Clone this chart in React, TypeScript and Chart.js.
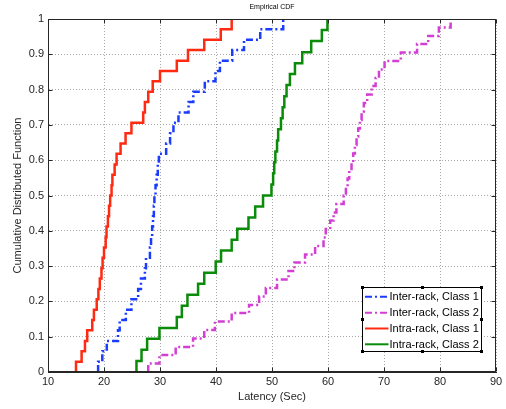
import React, { useEffect, useRef } from "react";
import { Chart, registerables } from "chart.js";

Chart.register(...registerables);

const xTicks = [10, 20, 30, 40, 50, 60, 70, 80, 90];
const yTicks = [0, 0.1, 0.2, 0.3, 0.4, 0.5, 0.6, 0.7, 0.8, 0.9, 1];
const yTickLabels = ["0", "0.1", "0.2", "0.3", "0.4", "0.5", "0.6", "0.7", "0.8", "0.9", "1"];

const seriesNames = ["Inter-rack, Class 1", "Inter-rack, Class 2", "Intra-rack, Class 1", "Intra-rack, Class 2"];

// Inter-rack, Class 1 (jump positions and CDF levels)
const interC1X = [18.95, 18.95, 19.7, 20.5, 22.5, 22.8, 23.9, 24.9, 26.1, 26.6, 27.3, 27.5, 28.2, 28.4, 28.6, 28.75, 28.9, 29.0, 29.2, 29.4, 29.6, 29.8, 31.1, 31.8, 32.4, 33.3, 35.1, 35.95, 38.0, 39.9, 40.7, 42.9, 45.0, 47.9, 52.0];
const interC1Y = [0, 0.029, 0.059, 0.088, 0.118, 0.147, 0.176, 0.206, 0.235, 0.265, 0.294, 0.324, 0.353, 0.382, 0.412, 0.441, 0.471, 0.5, 0.529, 0.559, 0.588, 0.618, 0.647, 0.676, 0.706, 0.735, 0.765, 0.794, 0.824, 0.853, 0.882, 0.912, 0.941, 0.971, 1.0];

// Inter-rack, Class 2
const interC2X = [27.9, 27.9, 29.9, 32.8, 35.9, 37.9, 39.8, 42.8, 45.9, 47.7, 48.9, 50.9, 52.95, 54.0, 55.9, 57.7, 59.2, 59.6, 60.4, 61.0, 61.5, 62.8, 63.2, 63.5, 63.8, 64.2, 64.5, 64.8, 65.1, 65.4, 65.7, 66.0, 66.4, 67.0, 67.8, 68.5, 69.1, 70.1, 73.0, 75.9, 77.9, 79.8, 81.9];
const interC2Y = [0, 0.024, 0.048, 0.071, 0.095, 0.119, 0.143, 0.167, 0.19, 0.214, 0.238, 0.262, 0.286, 0.31, 0.333, 0.357, 0.381, 0.405, 0.429, 0.452, 0.476, 0.5, 0.524, 0.548, 0.571, 0.595, 0.619, 0.643, 0.667, 0.69, 0.714, 0.738, 0.762, 0.786, 0.81, 0.833, 0.857, 0.881, 0.905, 0.929, 0.952, 0.976, 1.0];

// Intra-rack, Class 1
const intraC1X = [15.0, 15.0, 16.0, 16.6, 17.0, 17.9, 18.2, 18.7, 19.0, 19.25, 19.55, 19.75, 20.0, 20.3, 20.45, 20.7, 20.9, 21.1, 21.35, 21.5, 21.9, 22.25, 22.96, 23.85, 24.9, 27.0, 27.3, 27.9, 28.7, 30.0, 33.0, 35.0, 37.9, 40.85, 42.8];
const intraC1Y = [0, 0.029, 0.059, 0.088, 0.118, 0.147, 0.176, 0.206, 0.235, 0.265, 0.294, 0.324, 0.353, 0.382, 0.412, 0.441, 0.471, 0.5, 0.529, 0.559, 0.588, 0.618, 0.647, 0.676, 0.706, 0.735, 0.765, 0.794, 0.824, 0.853, 0.882, 0.912, 0.941, 0.971, 1.0];

// Intra-rack, Class 2
const intraC2X = [25.8, 25.8, 26.7, 27.7, 29.9, 33.0, 33.9, 34.9, 36.8, 37.9, 39.95, 40.9, 42.8, 43.8, 45.8, 47.0, 48.4, 49.9, 50.2, 50.4, 50.6, 50.9, 51.1, 51.6, 51.9, 52.2, 52.6, 53.2, 54.1, 55.4, 57.0, 58.9, 59.9];
const intraC2Y = [0, 0.031, 0.063, 0.094, 0.125, 0.156, 0.188, 0.219, 0.25, 0.281, 0.313, 0.344, 0.375, 0.406, 0.438, 0.469, 0.5, 0.531, 0.563, 0.594, 0.625, 0.656, 0.688, 0.719, 0.75, 0.781, 0.813, 0.844, 0.875, 0.906, 0.938, 0.969, 1.0];

const seriesX = [interC1X, interC2X, intraC1X, intraC2X];
const seriesY = [interC1Y, interC2Y, intraC1Y, intraC2Y];
const seriesColors = ["#1a3cff", "#d23fd2", "#ff2a12", "#0a8c0a"];
const seriesDash: number[][] = [[7, 3, 2, 3], [7, 3, 2, 3], [], []];

const FONT = '"Liberation Sans", Arial, Helvetica, sans-serif';

const decorPlugin = {
  id: "decor",
  afterDraw(chart: any) {
    const { ctx, chartArea: a, scales } = chart;
    ctx.save();
    ctx.setLineDash([]);
    // frame
    ctx.strokeStyle = "#262626";
    ctx.lineWidth = 1;
    const L = Math.round(a.left) + 0.5;
    const R = Math.round(a.right) - 0.5;
    const T = Math.round(a.top) + 0.5;
    const B = Math.round(a.bottom) - 0.5;
    ctx.strokeRect(L, T, R - L, B - T);
    // inward ticks
    ctx.beginPath();
    xTicks.forEach((v) => {
      const p = Math.round(scales.x.getPixelForValue(v)) + 0.5;
      ctx.moveTo(p, B); ctx.lineTo(p, B - 4);
      ctx.moveTo(p, T); ctx.lineTo(p, T + 4);
    });
    yTicks.forEach((v) => {
      const p = Math.round(scales.y.getPixelForValue(v)) + 0.5;
      ctx.moveTo(L, p); ctx.lineTo(L + 4, p);
      ctx.moveTo(R, p); ctx.lineTo(R - 4, p);
    });
    ctx.stroke();

    const cx = (a.left + a.right) / 2;
    const cy = (a.top + a.bottom) / 2;
    ctx.fillStyle = "#000";
    ctx.textAlign = "center";
    ctx.textBaseline = "middle";
    ctx.font = `7px ${FONT}`;
    ctx.fillText("Empirical CDF", cx, 7);
    ctx.fillStyle = "#262626";
    ctx.font = `11px ${FONT}`;
    ctx.fillText("Latency (Sec)", cx, 397);
    ctx.save();
    ctx.translate(18, cy);
    ctx.rotate(-Math.PI / 2);
    ctx.fillText("Cumulative Distributed Function", 0, 0);
    ctx.restore();

    // legend
    const lx = 362.5, ly = 287.5, lw = 119, lh = 64;
    ctx.fillStyle = "#fff";
    ctx.fillRect(lx, ly, lw, lh);
    ctx.strokeStyle = "#000";
    ctx.lineWidth = 1;
    ctx.strokeRect(lx, ly, lw, lh);
    ctx.fillStyle = "#000";
    const hs = 3;
    [[lx, ly], [lx + lw / 2, ly], [lx + lw, ly], [lx, ly + lh], [lx + lw / 2, ly + lh], [lx + lw, ly + lh], [lx, ly + lh / 2], [lx + lw, ly + lh / 2]].forEach(([hx, hy]) => {
      ctx.fillRect(Math.round(hx - hs / 2), Math.round(hy - hs / 2), hs, hs);
    });
    const rows = [296.7, 312.7, 328.5, 344.3];
    chart.data.datasets.forEach((ds: any, i: number) => {
      const y = rows[i];
      ctx.strokeStyle = ds.borderColor;
      ctx.lineWidth = 2;
      ctx.setLineDash(ds.borderDash || []);
      ctx.beginPath();
      ctx.moveTo(365, y);
      ctx.lineTo(388.5, y);
      ctx.stroke();
      ctx.setLineDash([]);
      ctx.fillStyle = "#000";
      ctx.textAlign = "left";
      ctx.textBaseline = "middle";
      ctx.font = `11px ${FONT}`;
      ctx.fillText(ds.label, 389.5, y + 0.5);
    });
    ctx.restore();
  },
};

export default function App() {
  const ref = useRef<HTMLCanvasElement | null>(null);
  useEffect(() => {
    if (!ref.current) return;
    const datasets = seriesNames.map((name, i) => ({
      label: name,
      data: seriesX[i].map((x, j) => ({ x, y: seriesY[i][j] })),
      borderColor: seriesColors[i],
      backgroundColor: seriesColors[i],
      borderWidth: 2.5,
      borderDash: seriesDash[i],
      borderCapStyle: "butt",
      pointRadius: 0,
      stepped: "before",
      fill: false,
      tension: 0,
    }));
    const chart = new Chart(ref.current, {
      type: "line",
      data: { datasets } as any,
      options: {
        animation: false,
        responsive: false,
        layout: { padding: { top: 19, right: 10, left: 0, bottom: 0 } },
        plugins: { legend: { display: false }, title: { display: false }, tooltip: { enabled: false } },
        scales: {
          x: {
            type: "linear",
            min: 10,
            max: 90,
            afterBuildTicks: (s: any) => { s.ticks = xTicks.map((v) => ({ value: v })); },
            afterFit: (s: any) => { s.height = 37; },
            ticks: { font: { family: FONT, size: 11 }, color: "#262626", padding: 3, maxRotation: 0, autoSkip: false, callback: (v: any) => String(v) },
            grid: { color: "#a8a8a8", lineWidth: 1, drawTicks: false },
            border: { display: true, color: "#262626", width: 1, dash: [1, 2] },
          },
          y: {
            type: "linear",
            min: 0,
            max: 1,
            afterBuildTicks: (s: any) => { s.ticks = yTicks.map((v) => ({ value: v })); },
            afterFit: (s: any) => { s.width = 48; },
            ticks: { font: { family: FONT, size: 11 }, color: "#262626", padding: 4, autoSkip: false, callback: (_v: any, i: number) => yTickLabels[i] },
            grid: { color: "#a8a8a8", lineWidth: 1, drawTicks: false },
            border: { display: true, color: "#262626", width: 1, dash: [1, 2] },
          },
        },
      } as any,
      plugins: [decorPlugin],
    });
    return () => chart.destroy();
  }, []);
  return (
    <div style={{ position: "fixed", left: 0, top: 0, width: 506, height: 409, background: "#fff" }}>
      <canvas ref={ref} width={506} height={409} style={{ display: "block" }} />
    </div>
  );
}
